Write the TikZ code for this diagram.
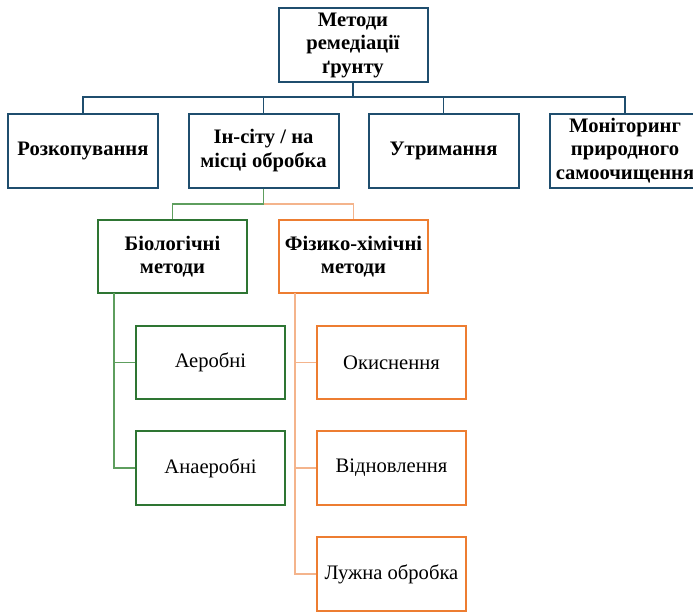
\documentclass[tikz,border=0pt]{standalone}
\usepackage{fontspec}
\setmainfont{Liberation Serif}
\definecolor{dblue}{HTML}{1F4E6E}
\definecolor{dgreen}{HTML}{2E7533}
\definecolor{lgreen}{HTML}{5E9E5E}
\definecolor{dorange}{HTML}{ED7D31}
\definecolor{lorange}{HTML}{F4B48C}
\tikzset{
  box/.style={draw, rectangle, line width=2pt, minimum width=150pt, minimum height=74pt, align=center, inner sep=1pt, font=\fontsize{20.6}{23.5}\selectfont, text=black},
  bluebox/.style={box, draw=dblue},
  greenbox/.style={box, draw=dgreen},
  orangebox/.style={box, draw=dorange},
  hb/.style={font=\fontsize{20.6}{23.5}\selectfont\bfseries},
  bconn/.style={draw=dblue, line width=1.8pt},
  gconn/.style={draw=lgreen, line width=1.3pt},
  oconn/.style={draw=lorange, line width=1.3pt},
}
\begin{document}
\begin{tikzpicture}[x=1pt,y=-1pt]
\clip (0,0) rectangle (693,611);
\useasboundingbox (0,0) rectangle (693,611);
\fill[white] (0,0) rectangle (693,611);

\node[bluebox, hb, minimum width=149pt] (top) at (353,45) {Методи\\ремедіації\\ґрунту};
\node[bluebox, hb] (b1) at (83,150.5) {Розкопування};
\node[bluebox, hb] (b2) at (263.5,150.5) {Ін-сіту / на\\місці обробка};
\node[bluebox, hb] (b3) at (443.5,150.5) {Утримання};
\node[bluebox, hb] (b4) at (625,150.5) {Моніторинг\\природного\\самоочищення};

\node[greenbox, hb, minimum height=73pt, minimum width=149pt] (bio) at (172.5,256.5) {Біологічні\\методи};
\node[orangebox, hb, minimum height=73pt, minimum width=149pt] (phys) at (353.5,256.5) {Фізико-хімічні\\методи};

\node[greenbox, minimum height=73pt, minimum width=149pt] (aer) at (210.5,362.5) {Аеробні};
\node[greenbox, minimum height=74pt, minimum width=149pt] (anaer) at (210.5,468) {Анаеробні};

\node[orangebox, minimum height=73pt, minimum width=149pt] (ox) at (391.5,362.5) {Окиснення};
\node[orangebox, minimum height=74pt, minimum width=149pt] (red) at (391.5,468) {Відновлення};
\node[orangebox, minimum height=74pt, minimum width=149pt] (alk) at (391.5,574) {Лужна обробка};

\coordinate (bus) at (353,97);
\draw[bconn] (top.south) -- (bus);
\draw[bconn] (bus) -| (b1.north);
\draw[bconn] (bus) -| (b2.north);
\draw[bconn] (bus) -| (b3.north);
\draw[bconn] (bus) -| (b4.north);

\coordinate (split) at (263.5,204);
\draw[gconn] (b2.south) -- (split) -| (bio.north);
\draw[oconn] (split) -| (phys.north);

\coordinate (bstem) at (114,293);
\draw[gconn] (bstem) |- (aer.west);
\draw[gconn] (bstem) |- (anaer.west);

\coordinate (ostem) at (295,293);
\draw[oconn] (ostem) |- (ox.west);
\draw[oconn] (ostem) |- (red.west);
\draw[oconn] (ostem) |- (alk.west);
\end{tikzpicture}
\end{document}
